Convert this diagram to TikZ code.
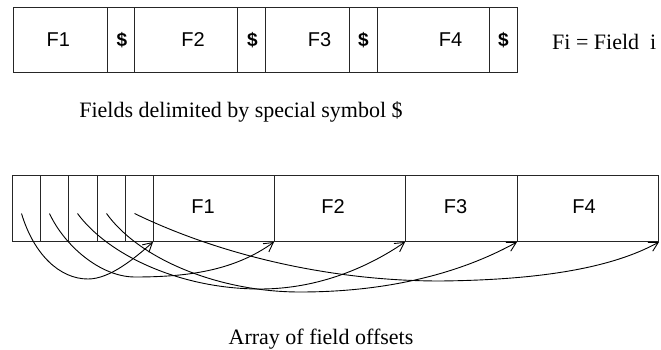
\documentclass[tikz,border=0pt]{standalone}
\usepackage{fontspec}
\setmainfont{Liberation Serif}
\setsansfont{Liberation Sans}
\usetikzlibrary{arrows.meta,calc}
\begin{document}
\begin{tikzpicture}[x=1pt,y=-1pt,
  cell/.style={draw=black!85, line width=1pt, inner sep=0pt, anchor=north west},
  topcell/.style={cell, minimum height=65pt},
  botcell/.style={cell, minimum height=66pt},
  lbl/.style={font=\sffamily\fontsize{20}{24}\selectfont, inner sep=0pt},
  dol/.style={font=\sffamily\bfseries\fontsize{19}{23}\selectfont, inner sep=0pt},
  captxt/.style={font=\fontsize{22}{26}\selectfont, inner sep=0pt},
  arc/.style={line width=0.9pt, -{Straight Barb[length=9pt,width=10pt]}}]
\useasboundingbox (0,0) rectangle (661,350);

% top record: fields delimited by $
\node[topcell, minimum width=94.3pt, label={[lbl, name=t1l, xshift=-2pt]center:F1}] (t1) at (12.7,7) {};
\node[topcell, minimum width=27pt, label={[dol, name=d1l, xshift=1pt]center:\$}] (d1) at (107,7) {};
\node[topcell, minimum width=103pt, label={[lbl, name=t2l, xshift=7pt]center:F2}] (t2) at (134,7) {};
\node[topcell, minimum width=28pt, label={[dol, name=d2l, xshift=1pt]center:\$}] (d2) at (237,7) {};
\node[topcell, minimum width=84pt, label={[lbl, name=t3l, xshift=12pt]center:F3}] (t3) at (265,7) {};
\node[topcell, minimum width=28pt, label={[dol, name=d3l]center:\$}] (d3) at (349,7) {};
\node[topcell, minimum width=112pt, label={[lbl, name=t4l, xshift=17pt]center:F4}] (t4) at (377,7) {};
\node[topcell, minimum width=28pt, label={[dol, name=d4l]center:\$}] (d4) at (489,7) {};

\node[captxt, anchor=west] (legend) at (552,42) {Fi = Field\hspace{0.5em}i};
\node[captxt, anchor=base] (cap1) at (241,118) {Fields delimited by special symbol \$};

% bottom record: array of offsets + fields
\node[botcell, minimum width=28pt] (o1) at (12,175) {};
\node[botcell, minimum width=28pt] (o2) at (40,175) {};
\node[botcell, minimum width=29pt] (o3) at (68,175) {};
\node[botcell, minimum width=28pt] (o4) at (97,175) {};
\node[botcell, minimum width=28pt] (o5) at (125,175) {};
\node[botcell, minimum width=121pt, label={[lbl, name=f1l, xshift=-11pt, yshift=2pt]center:F1}] (f1) at (153,175) {};
\node[botcell, minimum width=131pt, label={[lbl, name=f2l, xshift=-7pt, yshift=2pt]center:F2}] (f2) at (274,175) {};
\node[botcell, minimum width=112pt, label={[lbl, name=f3l, xshift=-6pt, yshift=2pt]center:F3}] (f3) at (405,175) {};
\node[botcell, minimum width=141pt, label={[lbl, name=f4l, xshift=-4pt, yshift=2pt]center:F4}] (f4) at (517,175) {};

\foreach \i in {1,...,5} {\coordinate (s\i) at ($(o\i.west)+(9.5,5)$);}

\draw[arc] (s1) .. controls (34,255) and (60,279) .. (88,279)
               .. controls (110,279) and (135,258) .. (f1.south west);
\draw[arc] (s2) .. controls (64,245) and (100,277) .. (135,277)
               .. controls (190,277) and (235,270) .. (f2.south west);
\draw[arc] (s3) .. controls (108,255) and (180,289) .. (260,289)
               .. controls (320,289) and (370,266) .. (f3.south west);
\draw[arc] (s4) .. controls (140,260) and (220,292) .. (300,292)
               .. controls (400,292) and (470,268) .. (f4.south west);
\draw[arc] (s5) .. controls (220,255) and (330,281) .. (440,281)
               .. controls (540,280) and (612,268) .. (f4.south east);

\node[captxt, anchor=base] (cap2) at (321,344) {Array of field offsets};
\end{tikzpicture}
\end{document}
